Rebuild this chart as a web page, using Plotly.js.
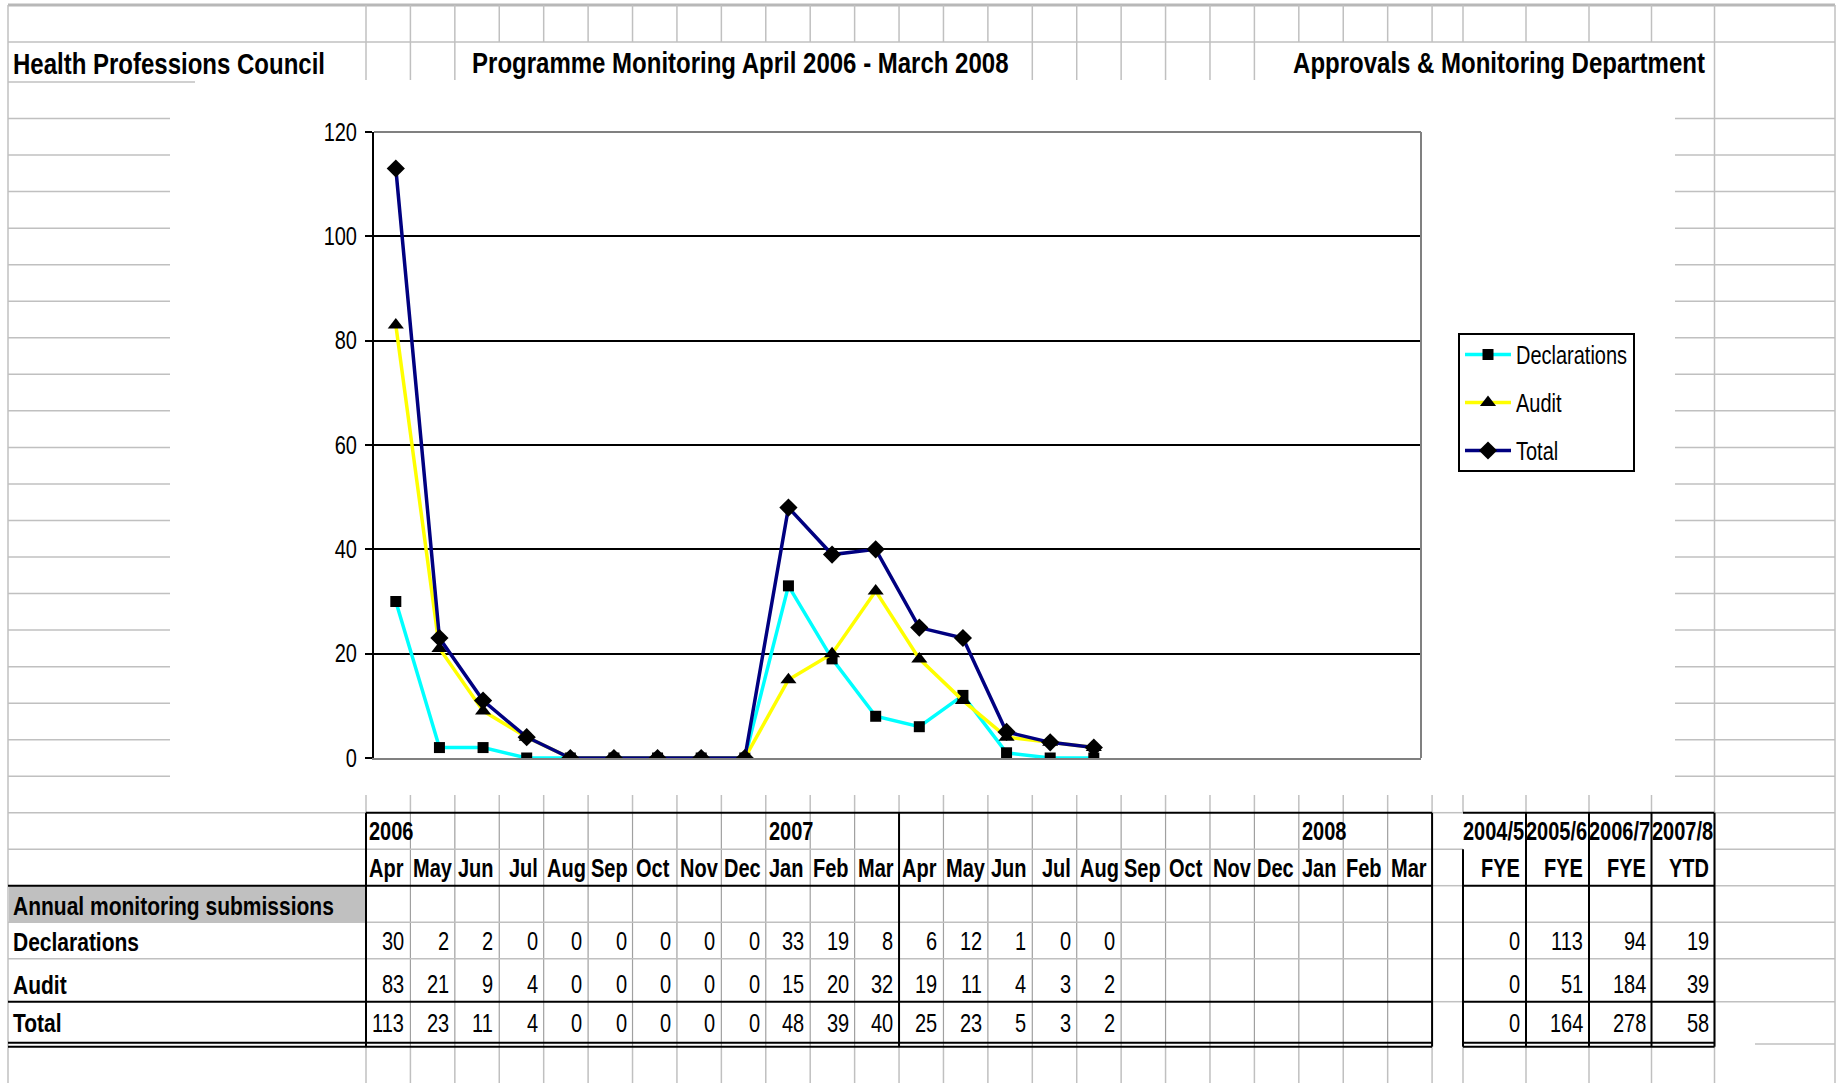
<!DOCTYPE html>
<html><head><meta charset="utf-8">
<script src="https://cdn.plot.ly/plotly-3.0.1.min.js"></script>
<style>
html,body{margin:0;padding:0;background:#fff;overflow:hidden}
#chart{width:1839px;height:1083px}
#chart text.annotation-text, #chart text.legendtext, #chart g.ytick{transform-box:fill-box;transform-origin:center;transform:scaleY(1.25)}
</style>
</head><body><div id="chart"></div>
<script>
// ---------- data ----------
const monthLabels = ["Apr","May","Jun","Jul","Aug","Sep","Oct","Nov","Dec","Jan","Feb","Mar",
                     "Apr","May","Jun","Jul","Aug","Sep","Oct","Nov","Dec","Jan","Feb","Mar"];
const yearLabels  = ["2006","2006","2006","2006","2006","2006","2006","2006","2006","2007","2007","2007",
                     "2007","2007","2007","2007","2007","2007","2007","2007","2007","2008","2008","2008"];
const declarations = [30,2,2,0,0,0,0,0,0,33,19,8,6,12,1,0,0];
const audit        = [83,21,9,4,0,0,0,0,0,15,20,32,19,11,4,3,2];
const total        = [113,23,11,4,0,0,0,0,0,48,39,40,25,23,5,3,2];
const seriesNames  = ["Declarations","Audit","Total"];
const fyeYears  = ["2004/5","2005/6","2006/7","2007/8"];
const fyeTypes  = ["FYE","FYE","FYE","YTD"];
const fyeDecl   = [0,113,94,19];
const fyeAudit  = [0,51,184,39];
const fyeTotal  = [0,164,278,58];
const headerLeft   = "Health Professions Council";
const headerCenter = "Programme Monitoring April 2006 - March 2008";
const headerRight  = "Approvals & Monitoring Department";
const sectionLabel = "Annual monitoring submissions";

const periods = monthLabels.map((m,i)=>m+" "+yearLabels[i]);

// ---------- geometry helpers (pixel -> paper) ----------
const W=1839, H=1083, L=374, R=1421, T=132, B=758;
const X = px => (px - L)/(R - L);
const Y = py => (B - py)/(B - T);
const FONT = "'Liberation Sans', Arial, sans-serif";
const G = '#c0c0c0';
const colx = k => 366 + 44.42*k;
const fyeX = [1463, 1526, 1589, 1651.5, 1714.5];
const RIGHT = 1835;

const shapes = [];
const hl = (y,x0,x1,c,w) => shapes.push({type:'line',xref:'paper',yref:'paper',x0:X(x0),x1:X(x1),y0:Y(y),y1:Y(y),line:{color:c,width:w},layer:'above'});
const vl = (x,y0,y1,c,w) => shapes.push({type:'line',xref:'paper',yref:'paper',x0:X(x),x1:X(x),y0:Y(y0),y1:Y(y1),line:{color:c,width:w},layer:'above'});

// grey section cell fill
shapes.push({type:'rect',xref:'paper',yref:'paper',x0:X(9),x1:X(366),y0:Y(885.7),y1:Y(922.3),fillcolor:'#c0c0c0',line:{width:0},layer:'above'});

// sheet borders
hl(5,8,RIGHT,'#b8b8b8',3);
hl(42,8,RIGHT,G,1.5);
vl(8,5,H,G,1.5);
vl(RIGHT,5,H,G,1.5);
vl(1714.5,5,H,G,1.5);
// header row verticals
for(let k=0;k<=24;k++) vl(colx(k),5,42,G,1.5);
fyeX.slice(0,4).forEach(x=>vl(x,5,42,G,1.5));
[0,1,2,15,16,17,18,19,20].forEach(k=>vl(colx(k),42,80,G,1.5));
// row lines left/right of chart object
hl(82,8,195,G,1.5);
for(let k=1;k<=19;k++){ const y=82+36.54*k; hl(y,8,170,G,1.5); hl(y,1675,RIGHT,G,1.5); }
// verticals between chart and table and below table
for(let k=0;k<=24;k++){ vl(colx(k),795,812.7,G,1.5); vl(colx(k),1046.7,H,G,1.5); }
fyeX.slice(0,4).forEach(x=>{ vl(x,795,812.7,G,1.5); vl(x,1046.7,H,G,1.5); });
// table inner verticals
for(let k=1;k<=23;k++){ if(k!==12) vl(colx(k),812.7,1046.7,'#a0a0a0',1.2); }
// table horizontals
const blackRow = y => { hl(y,1432,1463,G,1.5); hl(y,1714.5,RIGHT,G,1.5); };
hl(812.7,8,366,G,1.5); hl(812.7,366,1432,'#000',2); hl(812.7,1463,1714.5,'#000',2); blackRow(812.7);
hl(849.2,8,1463,G,1.5); hl(849.2,1714.5,RIGHT,G,1.5);
hl(885.7,8,1432,'#000',2); hl(885.7,1463,1714.5,'#000',2); blackRow(885.7);
hl(922.3,8,RIGHT,G,1.5);
hl(958.8,8,RIGHT,G,1.5);
hl(1001.7,8,1432,'#000',2); hl(1001.7,1463,1714.5,'#000',2); blackRow(1001.7);
[1042.7,1046.7].forEach(y=>{ hl(y,8,1432,'#000',2); hl(y,1463,1714.5,'#000',2); });
hl(1044,1755,RIGHT,G,1.5);
// black verticals
[0,12,24].forEach(k=>vl(colx(k),812.7,1046.7,'#000',2));
vl(1463,849.2,1046.7,'#000',2);
fyeX.slice(1).forEach(x=>vl(x,812.7,1046.7,'#000',2));
// plot frame (top/right grey)
hl(T,L,R,'#808080',2);
vl(R,T,B,'#808080',2);

// ---------- annotations ----------
const ann = [];
const txt = (x,y,s,opt) => ann.push({xref:'paper',yref:'paper',x:X(x),y:Y(y),text:s,showarrow:false,
  xanchor:opt.anchor||'left',yanchor:'middle',borderpad:0,
  font:{family:FONT,size:opt.size||20,color:'#000',weight:opt.bold?700:400}});

txt(12,64,headerLeft,{size:24,bold:true});
txt(471,63,headerCenter,{size:24,bold:true});
txt(1706,63,headerRight,{size:24,bold:true,anchor:'right'});

const yearY=831, monthY=868, annualY=905, rowY=[941,984,1023];
monthLabels.forEach((m,k)=>{
  if(k===0 || m==="Jan") txt(colx(k)+2,yearY,yearLabels[k],{size:20,bold:true});
  if(m==="Jul") txt(colx(k+1)-5,monthY,m,{size:20,bold:true,anchor:'right'});
  else txt(colx(k)+2,monthY,m,{size:20,bold:true});
});
txt(12,annualY,sectionLabel,{size:21,bold:true});
const rows=[declarations,audit,total];
seriesNames.forEach((n,r)=>txt(12,rowY[r],n,{size:21,bold:true}));
rows.forEach((arr,r)=>arr.forEach((v,k)=>{
  if(v!==null && v!==undefined) txt(colx(k+1)-5,rowY[r],String(v),{size:20,anchor:'right'});
}));
const fyeRows=[fyeDecl,fyeAudit,fyeTotal];
fyeYears.forEach((s,j)=>{
  txt(fyeX[j+1]-1,yearY,s,{size:20,bold:true,anchor:'right'});
  txt(fyeX[j+1]-5,monthY,fyeTypes[j],{size:20,bold:true,anchor:'right'});
  fyeRows.forEach((arr,r)=>txt(fyeX[j+1]-5,rowY[r],String(arr[j]),{size:20,anchor:'right'}));
});

// ---------- traces ----------
const colors=['#00ffff','#ffff00','#000080'];
const symbols=['square','triangle-up','diamond'];
const sizes=[11,14,14];
const traces = rows.map((arr,i)=>({
  type:'scatter', mode:'lines+markers', name:seriesNames[i], legendgroup:seriesNames[i],
  x:periods.slice(0,arr.length), y:arr,
  line:{color:colors[i],width:3.5},
  marker:{symbol:symbols[i],size:sizes[i],color:'#000',line:{width:0}},
  hoverinfo:'x+y+name'
}));

const layout = {
  width:W, height:H,
  margin:{l:L,r:W-R,t:T,b:H-B,pad:0},
  paper_bgcolor:'#fff', plot_bgcolor:'#fff',
  font:{family:FONT,size:20,color:'#000'},
  showlegend:true,
  legend:{x:X(1458),y:Y(333),xanchor:'left',yanchor:'top',bgcolor:'#fff',bordercolor:'#000',borderwidth:2,
          font:{family:FONT,size:20,color:'#000'},traceorder:'grouped',tracegroupgap:19,itemwidth:46},
  xaxis:{type:'category',categoryorder:'array',categoryarray:periods,range:[-0.5,23.5],
         showticklabels:false,ticks:'',showgrid:false,zeroline:false,
         showline:true,linecolor:'#808080',linewidth:2,fixedrange:true},
  yaxis:{range:[0,120],dtick:20,tick0:0,showgrid:true,gridcolor:'#000',gridwidth:2,zeroline:false,
         showline:true,linecolor:'#000',linewidth:2,ticks:'outside',ticklen:7,tickwidth:2,tickcolor:'#000',
         ticklabelstandoff:4,tickfont:{family:FONT,size:20,color:'#000'},fixedrange:true},
  shapes:shapes, annotations:ann
};
Plotly.newPlot('chart',traces,layout,{displayModeBar:false});
</script></body></html>
